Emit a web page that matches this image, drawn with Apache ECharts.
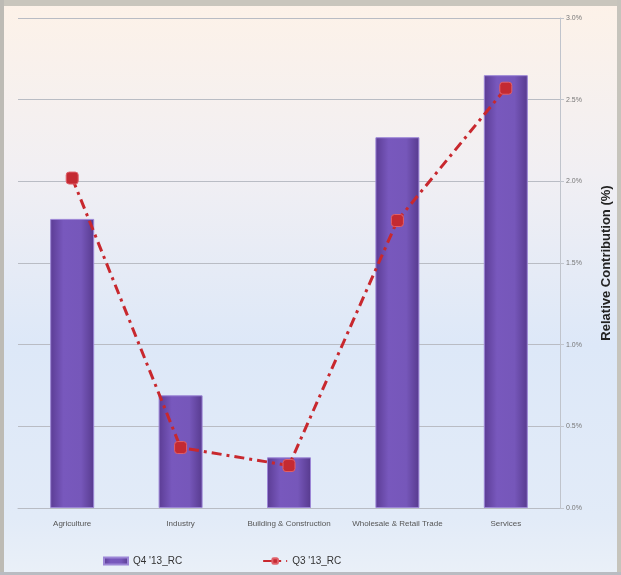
<!DOCTYPE html>
<html>
<head>
<meta charset="utf-8">
<script src="https://cdn.jsdelivr.net/npm/echarts@6/dist/echarts.min.js"></script>
<style>
  html, body { margin: 0; padding: 0; background: #ffffff; }
  #chart { width: 621px; height: 575px; }
</style>
</head>
<body>
<div id="chart"></div>
<script>
// Sectors and their relative contribution (%)
const categories = ['Agriculture', 'Industry', 'Building & Construction', 'Wholesale & Retail Trade', 'Services'];
const q4Values = [1.77, 0.69, 0.31, 2.27, 2.65];
const q3Values = [2.02, 0.37, 0.26, 1.76, 2.57];
const yTicks = ['0.0%', '0.5%', '1.0%', '1.5%', '2.0%', '2.5%', '3.0%'];

const chart = echarts.init(document.getElementById('chart'));

chart.setOption({
  animation: false,
  backgroundColor: {
    type: 'linear', x: 0, y: 0, x2: 0, y2: 1,
    colorStops: [
      { offset: 0, color: '#fdf2e8' },
      { offset: 0.3, color: '#f1eff3' },
      { offset: 0.6, color: '#dde8f8' },
      { offset: 0.9, color: '#e2ebf8' },
      { offset: 1, color: '#eaf0f8' }
    ]
  },
  graphic: [
    { type: 'rect', left: 0, top: 0, shape: { width: 621, height: 6 }, style: { fill: '#c9c6bd' }, silent: true },
    { type: 'rect', left: 0, top: 0, shape: { width: 4, height: 575 }, style: { fill: '#bdbbb5' }, silent: true },
    { type: 'rect', left: 617, top: 0, shape: { width: 4, height: 575 }, style: { fill: '#c6c4bc' }, silent: true },
    { type: 'rect', left: 0, top: 572, shape: { width: 621, height: 3 }, style: { fill: '#b9bcc2' }, silent: true }
  ],
  grid: { left: 18, right: 58, top: 18, bottom: 67 },
  legend: {
    bottom: 4,
    left: 98,
    itemGap: 80,
    itemWidth: 24,
    itemHeight: 7,
    textStyle: { fontFamily: 'Liberation Sans', fontSize: 10, color: '#333' },
    data: [
      { name: "Q4 '13_RC", icon: 'rect' },
      { name: "Q3 '13_RC" }
    ]
  },
  xAxis: {
    type: 'category',
    data: categories,
    axisLine: { lineStyle: { color: '#b8bcc4' } },
    axisTick: { show: false },
    axisLabel: { fontFamily: 'Liberation Sans', fontSize: 8, color: '#555', margin: 12, interval: 0 }
  },
  yAxis: {
    type: 'value',
    position: 'right',
    min: 0, max: 3, interval: 0.5,
    name: 'Relative Contribution (%)',
    nameLocation: 'middle',
    nameRotate: 90,
    nameGap: 40,
    nameTextStyle: { fontFamily: 'Liberation Sans', fontSize: 13, fontWeight: 'bold', color: '#222' },
    axisLine: { show: true, lineStyle: { color: '#c0c4cc' } },
    axisTick: { show: true, length: 4, lineStyle: { color: '#c0c4cc' } },
    axisLabel: {
      fontFamily: 'Liberation Sans', fontSize: 7, color: '#777', margin: 6,
      formatter: function (v) { return yTicks[Math.round(v / 0.5)]; }
    },
    splitLine: { lineStyle: { color: '#b9bcc4', width: 1 } }
  },
  series: [
    {
      name: "Q4 '13_RC",
      type: 'bar',
      data: q4Values,
      barWidth: 44,
      itemStyle: {
        color: {
          type: 'linear', x: 0, y: 0, x2: 1, y2: 0,
          colorStops: [
            { offset: 0, color: '#5b3c94' },
            { offset: 0.3, color: '#7858bd' },
            { offset: 0.7, color: '#7657ba' },
            { offset: 1, color: '#573a8e' }
          ]
        },
        borderColor: '#9c86d6',
        borderWidth: 1
      },
      z: 2
    },
    {
      name: "Q3 '13_RC",
      type: 'line',
      data: q3Values,
      symbol: 'roundRect',
      symbolSize: 12,
      lineStyle: { color: '#c8282e', width: 3, type: [10, 5, 3, 5] },
      itemStyle: { color: '#c42a32', borderColor: '#e0606a', borderWidth: 1 },
      z: 3
    }
  ]
});
</script>
</body>
</html>
